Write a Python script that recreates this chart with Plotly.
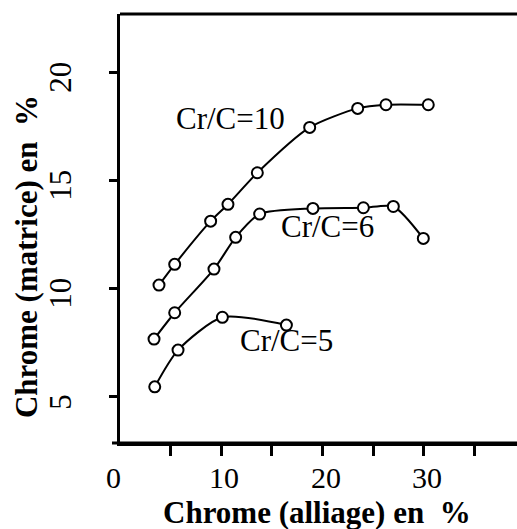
import plotly.graph_objects as go

# Data
x_cr10 = [3.85, 5.40, 8.95, 10.66, 13.56, 18.73, 23.47, 26.26, 30.44]
y_cr10 = [10.17, 11.13, 13.13, 13.91, 15.37, 17.47, 18.35, 18.52, 18.52]

x_cr6 = [3.36, 5.40, 9.28, 11.42, 13.79, 19.05, 24.03, 26.99, 29.95]
y_cr6 = [7.67, 8.89, 10.91, 12.38, 13.46, 13.72, 13.75, 13.81, 12.33]

x_cr5 = [3.43, 5.73, 10.11, 16.43]
y_cr5 = [5.46, 7.16, 8.68, 8.32]

labels = ["Cr/C=10", "Cr/C=6", "Cr/C=5"]
label_x = [10.93, 20.45, 16.46]
label_y = [17.86, 12.86, 7.62]

x_tickvals = [5, 10, 15, 20, 25, 30, 35]
x_labelvals = [0, 10, 20, 30]
x_labeltext = ["0", "10", "20", "30"]
y_tickvals = [5, 10, 15, 20]
y_ticktext = ["5", "10", "15", "20"]

FONT = "Liberation Serif"
FS = 31

fig = go.Figure()
for xs, ys in [(x_cr10, y_cr10), (x_cr6, y_cr6), (x_cr5, y_cr5)]:
    fig.add_trace(go.Scatter(
        x=xs, y=ys, mode="lines+markers",
        line=dict(color="black", width=2, shape="spline", smoothing=0.7),
        marker=dict(symbol="circle", size=11, color="white",
                    line=dict(color="black", width=2)),
        showlegend=False, cliponaxis=False,
    ))

annotations = []
for t, ax, ay in zip(labels, label_x, label_y):
    annotations.append(dict(x=ax, y=ay, xref="x", yref="y", text=t,
                            showarrow=False, xanchor="center", yanchor="middle",
                            font=dict(family=FONT, size=FS, color="black")))
# y tick labels, rotated, placed on the y axis scale
for v, t in zip(y_tickvals, y_ticktext):
    annotations.append(dict(x=-0.1486, y=v, xref="paper", yref="y", text=t,
                            showarrow=False, textangle=-90, yshift=-5,
                            xanchor="center", yanchor="middle",
                            font=dict(family=FONT, size=FS, color="black")))
# x tick labels placed on the x axis scale
for v, t in zip(x_labelvals, x_labeltext):
    annotations.append(dict(x=v, y=0, xref="x", yref="paper", text=t,
                            showarrow=False, xanchor="center", yanchor="middle",
                            xshift=(-7 if v == 0 else 3), yshift=-34,
                            font=dict(family=FONT, size=30, color="black")))
annotations.append(dict(x=0.496, y=-0.163, xref="paper", yref="paper",
                        text="<b>Chrome (alliage) en\u00a0\u00a0%</b>", showarrow=False,
                        xanchor="center", yanchor="middle",
                        font=dict(family=FONT, size=FS, color="black")))
annotations.append(dict(x=-0.234, y=0.4336, xref="paper", yref="paper",
                        text="<b>Chrome (matrice) en\u00a0\u00a0%</b>", showarrow=False,
                        textangle=-90, xanchor="center", yanchor="middle",
                        font=dict(family=FONT, size=FS, color="black")))

shapes = [
    dict(type="line", xref="paper", yref="paper", x0=0, x1=1, y0=1, y1=1,
         line=dict(color="black", width=3)),
    dict(type="line", xref="paper", yref="paper", x0=-8 / 397, x1=1, y0=0, y1=0,
         line=dict(color="black", width=3)),
]

fig.update_layout(
    width=517, height=529,
    margin=dict(l=120, r=0, t=14, b=86),
    paper_bgcolor="white", plot_bgcolor="white",
    font=dict(family=FONT, color="black"),
    annotations=annotations, shapes=shapes,
    xaxis=dict(range=[0, 39.2], showgrid=False, zeroline=False,
               showline=True, linecolor="black", linewidth=3,
               tickmode="array", tickvals=x_tickvals, showticklabels=False,
               ticks="outside", ticklen=10, tickwidth=3, tickcolor="black"),
    yaxis=dict(range=[2.86, 22.72], showgrid=False, zeroline=False,
               showline=True, linecolor="black", linewidth=3,
               tickmode="array", tickvals=y_tickvals, showticklabels=False,
               ticks="outside", ticklen=8, tickwidth=3, tickcolor="black"),
)

fig.write_html("out.html")
